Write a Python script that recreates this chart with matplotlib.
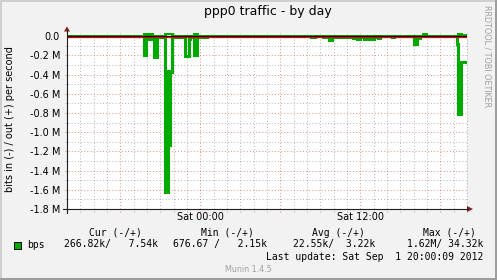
import matplotlib
matplotlib.use("Agg")
import matplotlib.pyplot as plt
from matplotlib.patches import Rectangle, Polygon
import numpy as np

W, H = 497, 280

# hours since Fri 14:00  (Sat 00:00 = 10, Sat 12:00 = 22)
hours = [0.0, 5.78, 5.93, 6.38, 6.53, 6.75, 7.35, 7.54, 7.65, 7.76, 7.88,
         8.83, 9.13, 9.23, 9.53, 9.73, 10.1, 10.5, 18.3, 18.6, 19.2, 19.65,
         19.85, 21.45, 21.75, 21.95, 22.3, 22.55, 22.8, 23.05, 23.3, 23.48,
         24.35, 24.5, 26.03, 26.25, 26.48, 26.7, 26.93, 29.27, 29.35, 29.55,
         30.0]
# Mbit/s, "in" is drawn below zero
bits_in = [0.001, 0.20, 0.03, 0.004, 0.22, 0.004, 1.62, 0.36, 1.13, 0.37,
           0.004, 0.21, 0.03, 0.004, 0.20, 0.004, 0.01, 0.002, 0.01, 0.002,
           0.01, 0.035, 0.004, 0.015, 0.025, 0.01, 0.03, 0.015, 0.03, 0.01,
           0.015, 0.002, 0.008, 0.002, 0.08, 0.02, 0.002, 0.002, 0.002, 0.08,
           0.81, 0.27, 0.27]
bits_out = [0.003, 0.03, 0.02, 0.003, 0.003, 0.003, 0.03, 0.03, 0.03, 0.03,
            0.003, 0.003, 0.003, 0.003, 0.03, 0.003, 0.003, 0.003, 0.003,
            0.003, 0.003, 0.003, 0.003, 0.003, 0.003, 0.003, 0.003, 0.003,
            0.003, 0.003, 0.003, 0.003, 0.003, 0.003, 0.003, 0.003, 0.003,
            0.025, 0.003, 0.003, 0.034, 0.0075, 0.0075]

ytick_vals = [0.0, -0.2, -0.4, -0.6, -0.8, -1.0, -1.2, -1.4, -1.6, -1.8]
ytick_labels = ["0.0", "-0.2 M", "-0.4 M", "-0.6 M", "-0.8 M", "-1.0 M",
                "-1.2 M", "-1.4 M", "-1.6 M", "-1.8 M"]
xtick_vals = [10, 22]
xtick_labels = ["Sat 00:00", "Sat 12:00"]

legend_heads = ["Cur (-/+)", "Min (-/+)", "Avg (-/+)", "Max (-/+)"]
legend_vals = ["266.82k/   7.54k", "676.67 /   2.15k", "22.55k/  3.22k",
               "1.62M/ 34.32k"]
last_update = "Last update: Sat Sep  1 20:00:09 2012"

GREEN = "#00AA00"
GRID = (0.56, 0.56, 0.56, 0.6)
MGRID = (0.87, 0.31, 0.31, 0.6)
AXIS = "#1F1F1F"
ARROW = "#801F1F"


def fx(x):
    return x / W


def fy(y):
    return 1 - y / H


fig = plt.figure(figsize=(W / 100, H / 100), dpi=100, facecolor="#F2F2F2")

# frame shading
fig.add_artist(Rectangle((0, fy(2)), 1, 2 / H, transform=fig.transFigure,
                         color="#CFCFCF", lw=0))
fig.add_artist(Rectangle((0, 0), 2 / W, 1, transform=fig.transFigure,
                         color="#CFCFCF", lw=0))
fig.add_artist(Rectangle((fx(494.5), 0), 2.5 / W, 1, transform=fig.transFigure,
                         color="#9E9E9E", lw=0))
fig.add_artist(Rectangle((0, 0), 1, 2.5 / H, transform=fig.transFigure,
                         color="#9E9E9E", lw=0))

ax = fig.add_axes([fx(67), fy(209), 400 / W, 176 / H])
ax.set_facecolor("white")
ymax = 176 / 96 - 1.8
ax.set_xlim(0, 30)
ax.set_ylim(-1.8, ymax)
for s in ax.spines.values():
    s.set_visible(False)

# grid (extends a little past the axes to form the tick marks)
xt = ax.get_xaxis_transform()
yt = ax.get_yaxis_transform()
for h in range(1, 31):
    major = (h - 4) % 6 == 0
    ax.plot([h, h], [-2.5 / 176, 1], transform=xt, clip_on=False,
            color=MGRID if major else GRID, lw=0.75, ls=(0, (1, 2)), zorder=1)
for i in range(1, 19):
    v = -0.1 * i
    major = i % 2 == 0
    ax.plot([-2.5 / 400, 1], [v, v], transform=yt, clip_on=False,
            color=MGRID if major else GRID, lw=0.75, ls=(0, (1, 2)), zorder=1)

ax.plot(hours, -np.array(bits_in), drawstyle="steps-post", color=GREEN,
        lw=2.2, zorder=3, solid_joinstyle="miter")
ax.plot(hours, bits_out, drawstyle="steps-post", color=GREEN,
        lw=2.2, zorder=3, solid_joinstyle="miter")

ax.axhline(0, color="black", lw=0.9, zorder=4)
ax.axhline(-1 / 96, color="#E00000", lw=0.9, zorder=4)

ax.set_yticks(ytick_vals)
ax.set_yticklabels(ytick_labels)
ax.set_xticks(xtick_vals)
ax.set_xticklabels(xtick_labels)
ax.tick_params(axis="both", length=0, labelsize=7, colors="black")
ax.tick_params(axis="y", pad=5)
ax.tick_params(axis="x", pad=2.5)

# axes with arrows
fig.add_artist(plt.Line2D([fx(63), fx(468)], [fy(209), fy(209)],
                          color=AXIS, lw=0.8))
fig.add_artist(plt.Line2D([fx(67), fx(67)], [fy(213), fy(31)],
                          color=AXIS, lw=0.8))
fig.add_artist(Polygon([(fx(473), fy(209)), (fx(467), fy(206)),
                        (fx(467), fy(212))], closed=True,
                       transform=fig.transFigure, color=ARROW, lw=0))
fig.add_artist(Polygon([(fx(67), fy(26.5)), (fx(64), fy(31.5)),
                        (fx(70), fy(31.5))], closed=True,
                       transform=fig.transFigure, color=ARROW, lw=0))

fig.text(fx(268), fy(12), "ppp0 traffic - by day", ha="center", va="center",
         fontsize=9)
fig.text(fx(10), fy(119), "bits in (-) / out (+) per second", rotation=90,
         ha="center", va="center", fontsize=7)
fig.text(fx(487), fy(56), "RRDTOOL / TOBI OETIKER", rotation=270,
         ha="center", va="center", fontsize=5.8, color="#A0A0A0")

head_right = [142, 254, 365, 476]
val_right = [158, 267, 375, 483]
for txt, x in zip(legend_heads, head_right):
    fig.text(fx(x), fy(232.7), txt, ha="right", va="center", fontsize=7,
             family="DejaVu Sans Mono")
for txt, x in zip(legend_vals, val_right):
    fig.text(fx(x), fy(244.5), txt, ha="right", va="center", fontsize=7,
             family="DejaVu Sans Mono")
fig.add_artist(Rectangle((fx(13.5), fy(248.5)), 7 / W, 7 / H,
                         transform=fig.transFigure, facecolor=GREEN,
                         edgecolor="black", lw=0.7))
fig.text(fx(27), fy(244.5), "bps", ha="left", va="center", fontsize=7,
         family="DejaVu Sans Mono")
fig.text(fx(483.5), fy(256.7), last_update, ha="right", va="center",
         fontsize=7, family="DejaVu Sans Mono")
fig.text(fx(248.5), fy(269.3), "Munin 1.4.5", ha="center", va="center",
         fontsize=5.8, color="#A0A0A0")

fig.savefig("out.png", dpi=100, facecolor=fig.get_facecolor())
